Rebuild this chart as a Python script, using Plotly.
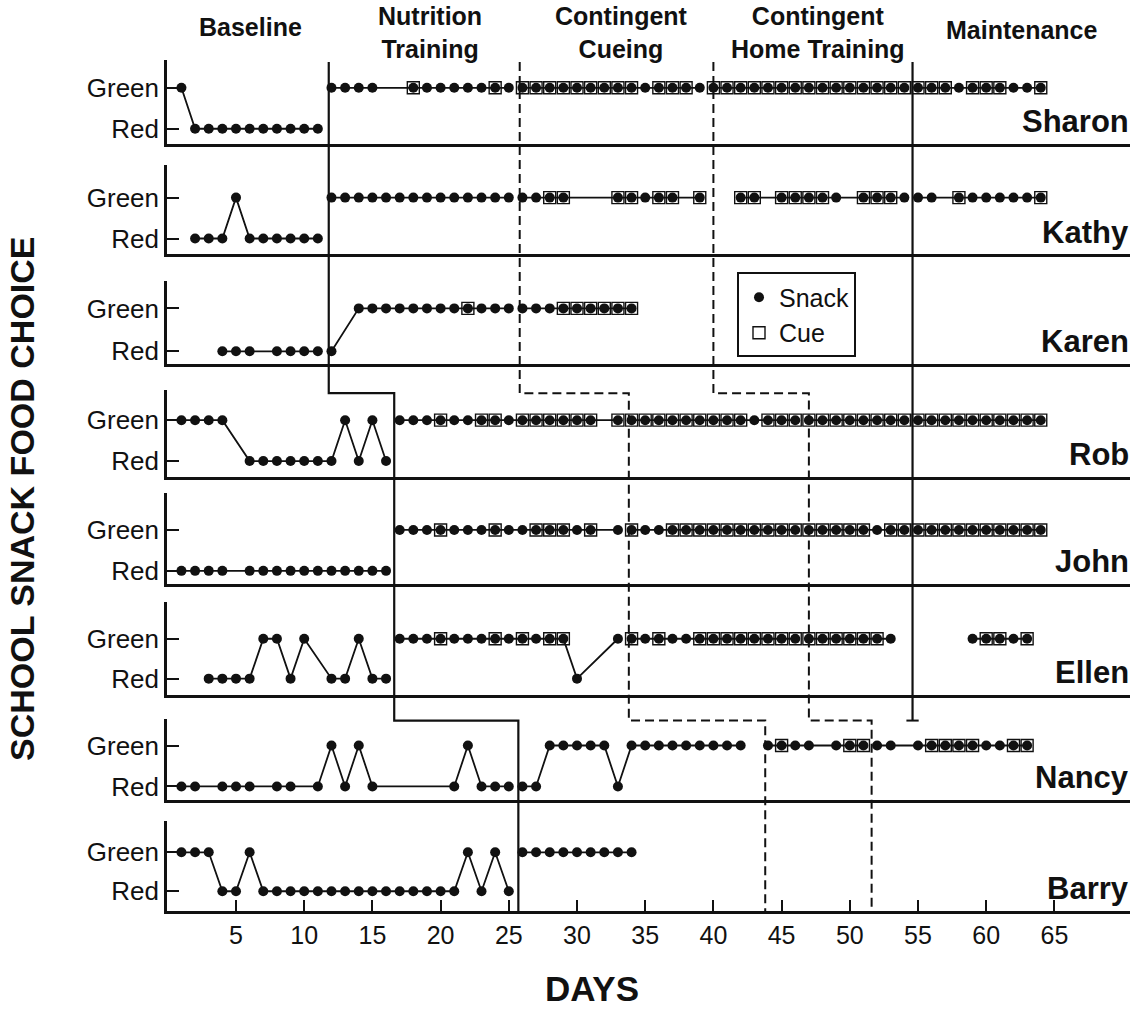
import plotly.graph_objects as go

W, H = 1143, 1010

# ---------------- data ----------------
names = ["Sharon", "Kathy", "Karen", "Rob", "John", "Ellen", "Nancy", "Barry"]
choice_labels = ["Red", "Green"]
x_tick_vals = [5, 10, 15, 20, 25, 30, 35, 40, 45, 50, 55, 60, 65]
phase_titles = ["Baseline", "Nutrition<br>Training", "Contingent<br>Cueing",
                "Contingent<br>Home Training", "Maintenance"]

# phase-change days (upper group / middle group / lower group)
nutrition_start = [11.8, 16.6, 25.7]
cueing_start = [25.8, 33.8, 43.8]
home_start = [40.0, 47.0, 51.6]
maintenance_start = 54.6

sharon_days = [1, 2, 3, 4, 5, 6, 7, 8, 9, 10, 11, None,
               12, 13, 14, 15, 18, 19, 20, 21, 22, 23, 24, 25, None,
               26, 27, 28, 29, 30, 31, 32, 33, 34, 35, 36, 37, 38, 39, None,
               40, 41, 42, 43, 44, 45, 46, 47, 48, 49, 50, 51, 52, 53, 54, None,
               55, 56, 57, 58, 59, 60, 61, 62, 63, 64]
sharon_choice = [1, 0, 0, 0, 0, 0, 0, 0, 0, 0, 0, None,
                 1, 1, 1, 1, 1, 1, 1, 1, 1, 1, 1, 1, None,
                 1, 1, 1, 1, 1, 1, 1, 1, 1, 1, 1, 1, 1, 1, None,
                 1, 1, 1, 1, 1, 1, 1, 1, 1, 1, 1, 1, 1, 1, 1, None,
                 1, 1, 1, 1, 1, 1, 1, 1, 1, 1]
sharon_cues = [18, 24, 26, 27, 28, 29, 30, 31, 32, 33, 34, 36, 37, 38,
               40, 41, 42, 43, 44, 45, 46, 47, 48, 49, 50, 51, 52, 53, 54,
               55, 56, 57, 59, 60, 61, 64]

kathy_days = [2, 3, 4, 5, 6, 7, 8, 9, 10, 11, None,
              12, 13, 14, 15, 16, 17, 18, 19, 20, 21, 22, 23, 24, 25, None,
              26, 27, 28, 29, 33, 34, 35, 36, 37, 39, None,
              42, 43, 45, 46, 47, 48, 49, 51, 52, 53, 54, None,
              55, 56, 58, 59, 60, 61, 62, 63, 64]
kathy_choice = [0, 0, 0, 1, 0, 0, 0, 0, 0, 0, None,
                1, 1, 1, 1, 1, 1, 1, 1, 1, 1, 1, 1, 1, 1, None,
                1, 1, 1, 1, 1, 1, 1, 1, 1, 1, None,
                1, 1, 1, 1, 1, 1, 1, 1, 1, 1, 1, None,
                1, 1, 1, 1, 1, 1, 1, 1, 1]
kathy_cues = [28, 29, 33, 34, 36, 37, 39, 42, 43, 45, 46, 47, 48, 51, 52, 53, 58, 64]

karen_days = [4, 5, 6, 8, 9, 10, 11, None,
              12, 14, 15, 16, 17, 18, 19, 20, 21, 22, 23, 24, 25, None,
              26, 27, 28, 29, 30, 31, 32, 33, 34]
karen_choice = [0, 0, 0, 0, 0, 0, 0, None,
                0, 1, 1, 1, 1, 1, 1, 1, 1, 1, 1, 1, 1, None,
                1, 1, 1, 1, 1, 1, 1, 1, 1]
karen_cues = [22, 29, 30, 31, 32, 33, 34]

rob_days = [1, 2, 3, 4, 6, 7, 8, 9, 10, 11, 12, 13, 14, 15, 16, None,
            17, 18, 19, 20, 21, 22, 23, 24, 25, 26, 27, 28, 29, 30, 31, 33, None,
            34, 35, 36, 37, 38, 39, 40, 41, 42, 43, 44, 45, 46, None,
            47, 48, 49, 50, 51, 52, 53, 54, None,
            55, 56, 57, 58, 59, 60, 61, 62, 63, 64]
rob_choice = [1, 1, 1, 1, 0, 0, 0, 0, 0, 0, 0, 1, 0, 1, 0, None,
              1, 1, 1, 1, 1, 1, 1, 1, 1, 1, 1, 1, 1, 1, 1, 1, None,
              1, 1, 1, 1, 1, 1, 1, 1, 1, 1, 1, 1, 1, None,
              1, 1, 1, 1, 1, 1, 1, 1, None,
              1, 1, 1, 1, 1, 1, 1, 1, 1, 1]
rob_cues = [20, 23, 24, 26, 27, 28, 29, 30, 31, 33,
            34, 35, 36, 37, 38, 39, 40, 41, 42, 44, 45, 46,
            47, 48, 49, 50, 51, 52, 53, 54,
            55, 56, 57, 58, 59, 60, 61, 62, 63, 64]

john_days = [1, 2, 3, 4, 6, 7, 8, 9, 10, 11, 12, 13, 14, 15, 16, None,
             17, 18, 19, 20, 21, 22, 23, 24, 25, 26, 27, 28, 29, 30, 31, 33, None,
             34, 35, 36, 37, 38, 39, 40, 41, 42, 43, 44, 45, 46, None,
             47, 48, 49, 50, 51, 52, 53, 54, None,
             55, 56, 57, 58, 59, 60, 61, 62, 63, 64]
john_choice = [0, 0, 0, 0, 0, 0, 0, 0, 0, 0, 0, 0, 0, 0, 0, None,
               1, 1, 1, 1, 1, 1, 1, 1, 1, 1, 1, 1, 1, 1, 1, 1, None,
               1, 1, 1, 1, 1, 1, 1, 1, 1, 1, 1, 1, 1, None,
               1, 1, 1, 1, 1, 1, 1, 1, None,
               1, 1, 1, 1, 1, 1, 1, 1, 1, 1]
john_cues = [20, 24, 27, 28, 29, 31, 34, 37, 38, 39, 40, 41, 42, 43, 44, 45, 46,
             47, 48, 49, 50, 51, 53, 54, 55, 56, 57, 58, 59, 60, 61, 62, 63, 64]

ellen_days = [3, 4, 5, 6, 7, 8, 9, 10, 12, 13, 14, 15, 16, None,
              17, 18, 19, 20, 21, 22, 23, 24, 25, 26, 27, 28, 29, 30, 33, None,
              34, 35, 36, 37, 38, 39, 40, 41, 42, 43, 44, 45, 46, None,
              47, 48, 49, 50, 51, 52, 53, None,
              59, 60, 61, 62, 63]
ellen_choice = [0, 0, 0, 0, 1, 1, 0, 1, 0, 0, 1, 0, 0, None,
                1, 1, 1, 1, 1, 1, 1, 1, 1, 1, 1, 1, 1, 0, 1, None,
                1, 1, 1, 1, 1, 1, 1, 1, 1, 1, 1, 1, 1, None,
                1, 1, 1, 1, 1, 1, 1, None,
                1, 1, 1, 1, 1]
ellen_cues = [20, 24, 26, 28, 29, 34, 36, 39, 40, 41, 42, 43, 44, 45, 46,
              47, 48, 49, 50, 51, 52, 60, 61, 63]

nancy_days = [1, 2, 4, 5, 6, 8, 9, 11, 12, 13, 14, 15, 21, 22, 23, 24, 25, None,
              26, 27, 28, 29, 30, 31, 32, 33, 34, 35, 36, 37, 38, 39, 40, 41, 42, None,
              44, 45, 46, 47, 49, 50, 51, None,
              52, 53, 55, 56, 57, 58, 59, 60, 61, 62, 63]
nancy_choice = [0, 0, 0, 0, 0, 0, 0, 0, 1, 0, 1, 0, 0, 1, 0, 0, 0, None,
                0, 0, 1, 1, 1, 1, 1, 0, 1, 1, 1, 1, 1, 1, 1, 1, 1, None,
                1, 1, 1, 1, 1, 1, 1, None,
                1, 1, 1, 1, 1, 1, 1, 1, 1, 1, 1]
nancy_cues = [45, 50, 51, 56, 57, 58, 59, 62, 63]

barry_days = [1, 2, 3, 4, 5, 6, 7, 8, 9, 10, 11, 12, 13, 14, 15, 16, 17, 18, 19, 20,
              21, 22, 23, 24, 25, None,
              26, 27, 28, 29, 30, 31, 32, 33, 34]
barry_choice = [1, 1, 1, 0, 0, 1, 0, 0, 0, 0, 0, 0, 0, 0, 0, 0, 0, 0, 0, 0,
                0, 1, 0, 1, 0, None,
                1, 1, 1, 1, 1, 1, 1, 1, 1]
barry_cues = []

series = [
    (sharon_days, sharon_choice, sharon_cues),
    (kathy_days, kathy_choice, kathy_cues),
    (karen_days, karen_choice, karen_cues),
    (rob_days, rob_choice, rob_cues),
    (john_days, john_choice, john_cues),
    (ellen_days, ellen_choice, ellen_cues),
    (nancy_days, nancy_choice, nancy_cues),
    (barry_days, barry_choice, barry_cues),
]

# ---------------- layout geometry (pixels) ----------------
# (axis top, Green level, Red level, panel bottom)
panel_px = [(60, 88, 129, 144), (165, 198, 239, 255), (282, 309, 352, 365),
            (391, 421, 462, 478), (494, 531, 572, 585), (603, 640, 680, 696),
            (720, 747, 788, 802), (823, 854, 893, 913)]
X_LEFT, X_RIGHT = 167, 1130
PX_PER_DAY = 13.64
DAY0_PX = 167.8
x_range = [(X_LEFT - DAY0_PX) / PX_PER_DAY, (X_RIGHT - DAY0_PX) / PX_PER_DAY]


def fx(px):
    return px / W


def fy(py):
    return 1 - py / H


FONT = "Liberation Sans, Arial, Helvetica, sans-serif"
BLACK = "#111111"

fig = go.Figure()
n = len(names)
for i, (days, choice, cues) in enumerate(series):
    k = "" if i == 0 else str(i + 1)
    xa, ya = "x" + k, "y" + k
    fig.add_trace(go.Scatter(x=days, y=choice, mode="lines",
                             line=dict(color=BLACK, width=1.8),
                             xaxis=xa, yaxis=ya, showlegend=False,
                             hoverinfo="skip", connectgaps=False))
    fig.add_trace(go.Scatter(x=days, y=choice, mode="markers",
                             marker=dict(symbol="circle", size=10, color=BLACK),
                             xaxis=xa, yaxis=ya, name="Snack",
                             showlegend=(i == 0), legendgroup="snack"))
    lookup = {d: c for d, c in zip(days, choice) if d is not None}
    fig.add_trace(go.Scatter(x=cues, y=[lookup[d] for d in cues], mode="markers",
                             marker=dict(symbol="square-open", size=12, color=BLACK,
                                         line=dict(width=1.4, color=BLACK)),
                             xaxis=xa, yaxis=ya, name="Cue",
                             showlegend=(i == 0), legendgroup="cue"))

layout_axes = {}
for i, (top, green, red, bottom) in enumerate(panel_px):
    k = "" if i == 0 else str(i + 1)
    unit = red - green
    yrange = [-(bottom - red) / unit, 1 + (green - top) / unit]
    last = (i == n - 1)
    layout_axes["xaxis" + k] = dict(
        domain=[fx(X_LEFT), fx(X_RIGHT)], range=x_range, anchor="y" + k,
        showline=True, linecolor=BLACK, linewidth=2.5, showgrid=False, zeroline=False,
        ticks="inside" if last else "", ticklen=11, tickwidth=2, tickcolor=BLACK,
        tickvals=x_tick_vals if last else [], showticklabels=last,
        tickfont=dict(family=FONT, size=25, color=BLACK))
    layout_axes["yaxis" + k] = dict(
        domain=[fy(bottom), fy(top)], range=yrange, anchor="x" + k,
        showline=True, linecolor=BLACK, linewidth=2.5, showgrid=False, zeroline=False,
        ticks="inside", ticklen=12, tickwidth=2, tickcolor=BLACK,
        tickvals=[0, 1], ticktext=choice_labels,
        tickfont=dict(family=FONT, size=26, color=BLACK))

# ---------------- phase change lines ----------------
STEP1_PX, STEP2_PX, TOP_PX, BOT_PX = 394, 722, 62, 913


def step_path(d):
    return (f"M{d[0]},{fy(TOP_PX)} L{d[0]},{fy(STEP1_PX)} L{d[1]},{fy(STEP1_PX)} "
            f"L{d[1]},{fy(STEP2_PX)} L{d[2]},{fy(STEP2_PX)} L{d[2]},{fy(BOT_PX)}")


shapes = [
    dict(type="path", xref="x", yref="paper", path=step_path(nutrition_start),
         line=dict(color=BLACK, width=2.2)),
    dict(type="path", xref="x", yref="paper", path=step_path(cueing_start),
         line=dict(color=BLACK, width=2, dash="9px,5px")),
    dict(type="path", xref="x", yref="paper", path=step_path(home_start),
         line=dict(color=BLACK, width=2, dash="9px,5px")),
    dict(type="line", xref="x", yref="paper", x0=maintenance_start, x1=maintenance_start,
         y0=fy(TOP_PX), y1=fy(STEP2_PX), line=dict(color=BLACK, width=2.2)),
    dict(type="line", xref="x", yref="paper", x0=maintenance_start - 0.45,
         x1=maintenance_start + 0.45, y0=fy(STEP2_PX), y1=fy(STEP2_PX),
         line=dict(color=BLACK, width=2)),
]

# ---------------- annotations ----------------
ann = []
for name, (top, green, red, bottom) in zip(names, panel_px):
    ann.append(dict(text=name, xref="paper", yref="paper", x=fx(1131), y=fy(bottom - 3),
                    xanchor="right", yanchor="bottom", showarrow=False,
                    font=dict(family=FONT, size=31, color=BLACK, weight="bold")))

title_pos = [(250, 27), (430, 33), (622, 33), (818, 33), (1022, 30)]
for t, (px, py) in zip(phase_titles, title_pos):
    ann.append(dict(text=t, xref="paper", yref="paper", x=fx(px), y=fy(py),
                    xanchor="center", yanchor="middle", showarrow=False,
                    font=dict(family=FONT, size=25, color=BLACK, weight="bold")))

ann.append(dict(text="SCHOOL SNACK FOOD CHOICE", xref="paper", yref="paper",
                x=fx(22), y=fy(500), textangle=-90, xanchor="center", yanchor="middle",
                showarrow=False, font=dict(family=FONT, size=34, color=BLACK, weight="bold")))
ann.append(dict(text="DAYS", xref="paper", yref="paper", x=fx(592), y=fy(990),
                xanchor="center", yanchor="middle", showarrow=False,
                font=dict(family=FONT, size=35, color=BLACK, weight="bold")))

fig.update_layout(
    width=W, height=H, margin=dict(l=0, r=0, t=0, b=0),
    paper_bgcolor="white", plot_bgcolor="white",
    shapes=shapes, annotations=ann,
    legend=dict(x=fx(737), y=fy(273), xanchor="left", yanchor="top",
                bordercolor=BLACK, borderwidth=2, bgcolor="white",
                font=dict(family=FONT, size=25, color=BLACK),
                itemwidth=30, tracegroupgap=0),
    **layout_axes,
)

fig.write_html("out.html", config={"displayModeBar": False},
               post_script="document.body.style.margin='0px';document.body.style.padding='0px';")
